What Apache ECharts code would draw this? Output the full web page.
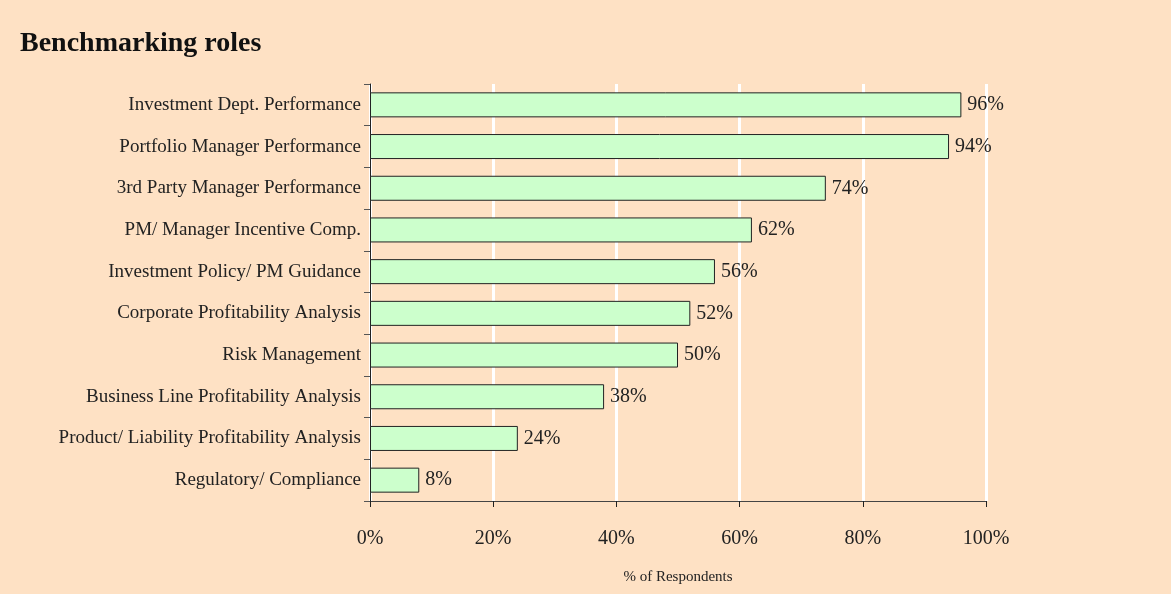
<!DOCTYPE html>
<html>
<head>
<meta charset="utf-8">
<script src="https://cdn.jsdelivr.net/npm/echarts@6/dist/echarts.min.js"></script>
<style>
  html, body { margin: 0; padding: 0; background: #fee1c4; }
  #chart { width: 1171px; height: 594px; }
</style>
</head>
<body>
<div id="chart"></div>
<script>
// roles, listed bottom to top (category axis draws first item at the bottom)
var roles = [
  'Regulatory/ Compliance',
  'Product/ Liability Profitability Analysis',
  'Business Line Profitability Analysis',
  'Risk Management',
  'Corporate Profitability Analysis',
  'Investment Policy/ PM Guidance',
  'PM/ Manager Incentive Comp.',
  '3rd Party Manager Performance',
  'Portfolio Manager Performance',
  'Investment Dept. Performance'
];
var respondents = [8, 24, 38, 50, 52, 56, 62, 74, 94, 96];

var chart = echarts.init(document.getElementById('chart'));
var font = '"Liberation Serif", "DejaVu Serif", serif';

chart.setOption({
  backgroundColor: '#fee1c4',
  animation: false,
  title: {
    text: 'Benchmarking roles',
    left: 15,
    top: 25,
    textStyle: { fontFamily: font, fontSize: 28, fontWeight: 'bold', color: '#111' }
  },
  grid: { left: 370, right: 185, top: 84, bottom: 93 },
  xAxis: {
    type: 'value',
    min: 0,
    max: 100,
    interval: 20,
    name: '% of Respondents',
    nameLocation: 'middle',
    nameGap: 69,
    nameTextStyle: { fontFamily: font, fontSize: 15, color: '#222' },
    axisLine: { show: true, lineStyle: { color: '#444', width: 1 } },
    axisTick: { show: true, length: 6, lineStyle: { color: '#222' } },
    axisLabel: { formatter: '{value}%', margin: 28, fontFamily: font, fontSize: 20, color: '#222' },
    splitLine: { show: true, lineStyle: { color: '#ffffff', width: 3 } }
  },
  yAxis: {
    type: 'category',
    data: roles,
    axisLine: { show: true, lineStyle: { color: '#222', width: 1 } },
    axisTick: { show: true, length: 6, lineStyle: { color: '#555' } },
    axisLabel: { margin: 9, fontFamily: font, fontSize: 19, color: '#222' }
  },
  series: [{
    type: 'bar',
    data: respondents,
    barWidth: 25,
    itemStyle: { color: '#ccffcc', borderColor: '#222', borderWidth: 1 },
    label: {
      show: true,
      position: 'right',
      distance: 6,
      formatter: '{c}%',
      fontFamily: font,
      fontSize: 20,
      color: '#222'
    }
  }]
});
</script>
</body>
</html>
